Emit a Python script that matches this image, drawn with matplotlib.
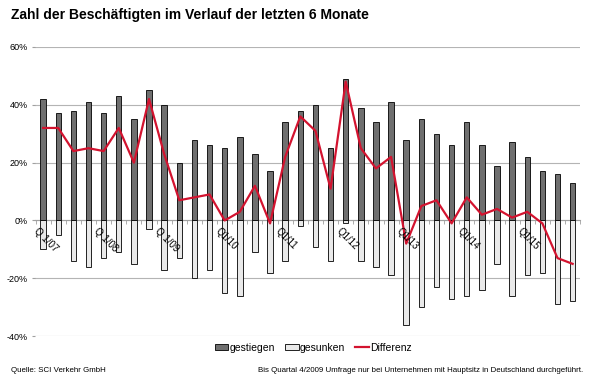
import matplotlib.pyplot as plt
import numpy as np

plt.rcParams['font.family'] = ['Liberation Sans', 'DejaVu Sans']

# Quarterly survey results, Q1/07 .. Q4/15 (percent)
quarters = [f'Q{q}/{y:02d}' for y in range(7, 16) for q in range(1, 5)]
gestiegen = [42, 37, 38, 41, 37, 43, 35, 45, 40, 20, 28, 26,
             25, 29, 23, 17, 34, 38, 40, 25, 49, 39, 34, 41,
             28, 35, 30, 26, 34, 26, 19, 27, 22, 17, 16, 13]
gesunken = [-10, -5, -14, -16, -13, -11, -15, -3, -17, -13, -20, -17,
            -25, -26, -11, -18, -14, -2, -9, -14, -1, -14, -16, -19,
            -36, -30, -23, -27, -26, -24, -15, -26, -19, -18, -29, -28]
differenz = [32, 32, 24, 25, 24, 32, 20, 42, 23, 7, 8, 9,
             0, 3, 12, -1, 22, 36, 31, 11, 48, 25, 18, 22,
             -8, 5, 7, -1, 8, 2, 4, 1, 3, -1, -13, -15]
tick_labels = ['Q 1/07', 'Q 1/08', 'Q 1/09', 'Q1/10', 'Q1/11',
               'Q1/12', 'Q1/13', 'Q1/14', 'Q1/15']

x = np.arange(len(quarters))

fig = plt.figure(figsize=(6, 3.82), dpi=100)
ax = fig.add_axes([0.058, 0.12, 0.909, 0.757])

b1 = ax.bar(x, gestiegen, width=0.36, color='#6f6f6f', edgecolor='black',
            linewidth=0.6, label='gestiegen', zorder=3)
b2 = ax.bar(x, gesunken, width=0.36, color='#e9e9e9', edgecolor='black',
            linewidth=0.6, label='gesunken', zorder=3)
ln, = ax.plot(x, differenz, color='#d3132f', linewidth=1.6, label='Differenz', zorder=4)

ax.set_ylim(-40, 60)
ax.set_xlim(-0.55, len(x) - 0.55)
ax.set_yticks(np.arange(-40, 61, 20))
ax.set_yticklabels([f'{v}%' for v in range(-40, 61, 20)], fontsize=6.5)
ax.yaxis.grid(True, color='#b4b4b4', linewidth=0.8, zorder=0)

for s in ['top', 'right', 'left']:
    ax.spines[s].set_visible(False)
ax.spines['bottom'].set_position(('data', 0))
ax.spines['bottom'].set_color('#a0a0a0')
ax.spines['bottom'].set_linewidth(0.8)

ax.set_xticks([])
ax.set_xticks(np.arange(-0.5, len(x), 1), minor=True)
ax.tick_params(axis='x', which='minor', length=3, color='#a0a0a0', direction='out')
ax.tick_params(axis='y', length=2, color='#a0a0a0', pad=3)

# quarter labels drawn on top of the bars
for i, lab in zip(x[::4], tick_labels):
    ax.text(i - 0.3, -1.8, lab, rotation=-45, ha='left', va='top',
            rotation_mode='anchor', fontsize=7, zorder=6)

fig.text(0.018, 0.962, 'Zahl der Beschäftigten im Verlauf der letzten 6 Monate',
         fontsize=10, fontweight='bold', va='center')
fig.legend([b1, b2, ln], ['gestiegen', 'gesunken', 'Differenz'],
           loc='center', bbox_to_anchor=(0.522, 0.09), ncol=3, frameon=False,
           fontsize=7.5, handlelength=1.3, handleheight=0.5, columnspacing=1.0,
           handletextpad=0.1)
fig.text(0.018, 0.031, 'Quelle: SCI Verkehr GmbH', fontsize=5.7, va='center')
fig.text(0.972, 0.031, 'Bis Quartal 4/2009 Umfrage nur bei Unternehmen mit Hauptsitz '
         'in Deutschland durchgeführt.', fontsize=5.7, va='center', ha='right')

fig.savefig('out.png', dpi=100)
